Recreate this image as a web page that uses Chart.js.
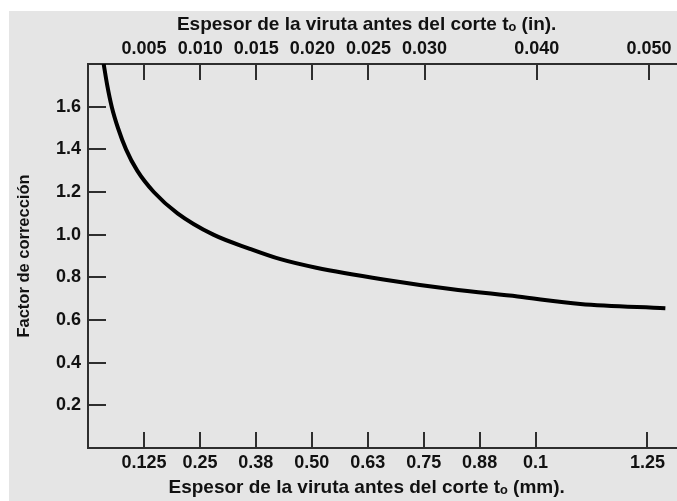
<!DOCTYPE html>
<html>
<head>
<meta charset="utf-8">
<script src="https://cdn.jsdelivr.net/npm/chart.js@4.4.1/dist/chart.umd.min.js"></script>
<style>
  html, body { margin: 0; padding: 0; background: #fff; }
  #fondo { position: absolute; left: 9px; top: 11px; width: 668px; height: 490px; background: #e5e5e5; }
  #wrap { position: absolute; left: 0; top: 0; width: 677px; height: 501px; }
</style>
</head>
<body>
<div id="fondo"></div>
<div id="wrap"><canvas id="grafico"></canvas></div>
<script>
// curva (espesor en mm -> factor de correccion)
const espesorMm = [0.035, 0.043, 0.053, 0.067, 0.085, 0.11, 0.147, 0.20, 0.28, 0.36, 0.43, 0.51, 0.66, 0.81, 0.96, 1.10, 1.29];
const factor    = [1.80, 1.70, 1.60, 1.50, 1.40, 1.30, 1.20, 1.10, 1.00, 0.935, 0.885, 0.845, 0.79, 0.745, 0.71, 0.675, 0.655];

// ejes
const ticksMm = [0.125, 0.25, 0.375, 0.5, 0.625, 0.75, 0.875, 1.0, 1.25];
const etiquetasMm = ['0.125', '0.25', '0.38', '0.50', '0.63', '0.75', '0.88', '0.1', '1.25'];
const ticksIn = [0.005, 0.010, 0.015, 0.020, 0.025, 0.030, 0.040, 0.050];
const etiquetasIn = ['0.005', '0.010', '0.015', '0.020', '0.025', '0.030', '0.040', '0.050'];
const ticksFactor = [0.2, 0.4, 0.6, 0.8, 1.0, 1.2, 1.4, 1.6];
const etiquetasFactor = ['0.2', '0.4', '0.6', '0.8', '1.0', '1.2', '1.4', '1.6'];

const fuente = "'Liberation Sans', Arial, sans-serif";
const colorEje = '#2e2e2e';

// marcas de los ejes hacia adentro
const marcasInternas = {
  id: 'marcasInternas',
  afterDraw(chart) {
    const ctx = chart.ctx, a = chart.chartArea;
    const sx = chart.scales.x, st = chart.scales.xSup, sy = chart.scales.y;
    ctx.save();
    ctx.strokeStyle = colorEje;
    ctx.lineWidth = 2;
    ctx.beginPath();
    ticksMm.forEach(v => {
      const p = Math.round(sx.getPixelForValue(v));
      ctx.moveTo(p, a.bottom); ctx.lineTo(p, a.bottom - 16);
    });
    ticksIn.forEach(v => {
      const p = Math.round(st.getPixelForValue(v));
      ctx.moveTo(p, a.top); ctx.lineTo(p, a.top + 16);
    });
    ticksFactor.forEach(v => {
      const p = Math.round(sy.getPixelForValue(v));
      ctx.moveTo(a.left, p); ctx.lineTo(a.left + 18, p);
    });
    ctx.stroke();
    ctx.restore();
  }
};

new Chart(document.getElementById('grafico'), {
  type: 'line',
  data: {
    datasets: [{
      data: espesorMm.map((x, i) => ({ x: x, y: factor[i] })),
      borderColor: '#000',
      borderWidth: 4,
      pointRadius: 0,
      cubicInterpolationMode: 'monotone',
      fill: false
    }]
  },
  options: {
    responsive: true,
    maintainAspectRatio: false,
    animation: false,
    layout: { padding: 0 },
    plugins: { legend: { display: false }, tooltip: { enabled: false } },
    scales: {
      x: {
        type: 'linear', position: 'bottom', min: 0, max: 1.316,
        afterBuildTicks: s => { s.ticks = ticksMm.map(v => ({ value: v })); },
        afterFit: s => { s.height = 53; },
        ticks: {
          autoSkip: false, maxRotation: 0, padding: 4, color: '#111',
          font: { family: fuente, size: 18, weight: 'bold' },
          callback: (v, i) => etiquetasMm[i]
        },
        grid: { drawOnChartArea: false, drawTicks: false },
        border: { display: true, color: colorEje, width: 2 },
        title: {
          display: true, text: 'Espesor de la viruta antes del corte t\u2092 (mm).      ',
          color: '#111', padding: { top: 0, bottom: 2 },
          font: { family: fuente, size: 19, weight: 'bold' }
        }
      },
      xSup: {
        type: 'linear', position: 'top', min: 0, max: 0.0525,
        afterBuildTicks: s => { s.ticks = ticksIn.map(v => ({ value: v })); },
        afterFit: s => { s.height = 64; },
        ticks: {
          autoSkip: false, maxRotation: 0, padding: 4, color: '#111',
          font: { family: fuente, size: 18, weight: 'bold' },
          callback: (v, i) => etiquetasIn[i]
        },
        grid: { drawOnChartArea: false, drawTicks: false },
        border: { display: true, color: colorEje, width: 2 },
        title: {
          display: true, text: 'Espesor de la viruta antes del corte t\u2092 (in).      ',
          color: '#111', padding: { top: 13, bottom: 0 },
          font: { family: fuente, size: 19, weight: 'bold' }
        }
      },
      y: {
        type: 'linear', min: 0, max: 1.8,
        afterBuildTicks: s => { s.ticks = ticksFactor.map(v => ({ value: v })); },
        afterFit: s => { s.width = 88; },
        ticks: {
          padding: 7, color: '#111',
          font: { family: fuente, size: 18, weight: 'bold' },
          callback: (v, i) => etiquetasFactor[i]
        },
        grid: { drawOnChartArea: false, drawTicks: false },
        border: { display: true, color: colorEje, width: 2 },
        title: {
          display: true, text: 'Factor de corrección',
          color: '#111', padding: { top: 15, bottom: 0 },
          font: { family: fuente, size: 16.5, weight: 'bold' }
        }
      }
    }
  },
  plugins: [marcasInternas]
});
</script>
</body>
</html>
